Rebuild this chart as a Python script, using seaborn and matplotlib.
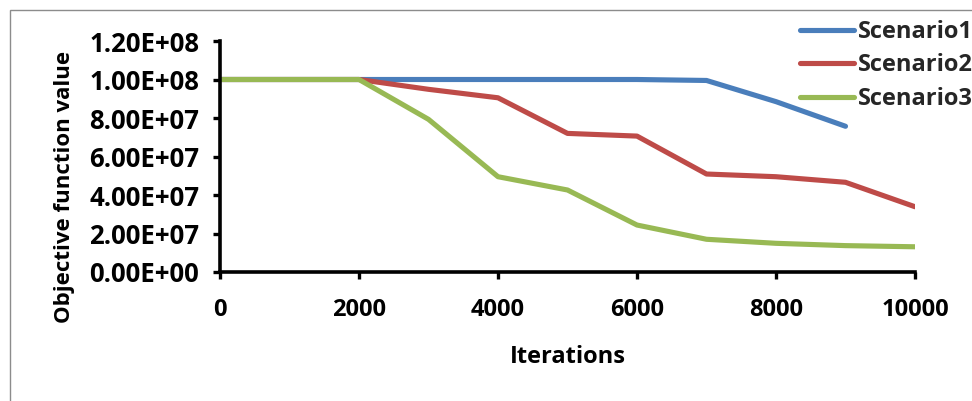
import matplotlib
matplotlib.use("Agg")
import matplotlib.pyplot as plt
from matplotlib.ticker import FuncFormatter, MultipleLocator
from matplotlib.patches import Rectangle
import seaborn as sns
import pandas as pd

iterations = [0, 1000, 2000, 3000, 4000, 5000, 6000, 7000, 8000, 9000, 10000]
scenario1 = [1.0e8, 1.0e8, 1.0e8, 1.0e8, 1.0e8, 1.0e8, 1.0e8, 0.995e8, 0.885e8, 0.757e8, None]
scenario2 = [1.0e8, 1.0e8, 1.0e8, 0.949e8, 0.905e8, 0.720e8, 0.706e8, 0.509e8, 0.495e8, 0.466e8, 0.339e8]
scenario3 = [1.0e8, 1.0e8, 1.0e8, 0.793e8, 0.495e8, 0.426e8, 0.244e8, 0.170e8, 0.149e8, 0.137e8, 0.131e8]
series_names = ["Scenario1", "Scenario2", "Scenario3"]
colors = ["#4A7EBB", "#BE4B48", "#98B954"]

rows = []
for name, vals in zip(series_names, [scenario1, scenario2, scenario3]):
    for it, v in zip(iterations, vals):
        if v is not None:
            rows.append({"Iterations": it, "value": v, "series": name})
df = pd.DataFrame(rows)

sns.set_theme(style="white")
plt.rcParams["font.family"] = ["Open Sans", "DejaVu Sans"]
plt.rcParams["font.weight"] = "bold"
FS = 17

fig = plt.figure(figsize=(9.72, 4.01), dpi=100)
ax = fig.add_axes([220/972, 1-272/401, (915-220)/972, (272-41)/401])

sns.lineplot(data=df, x="Iterations", y="value", hue="series", palette=colors,
             linewidth=3.7, ax=ax, legend=False, solid_capstyle="round")

ax.set_xlim(0, 10000)
ax.set_ylim(0, 1.2e8)
ax.xaxis.set_major_locator(MultipleLocator(2000))
ax.yaxis.set_major_locator(MultipleLocator(2e7))
ax.yaxis.set_major_formatter(FuncFormatter(lambda v, p: f"{v:.2E}"))

for s in ["top", "right"]:
    ax.spines[s].set_visible(False)
for s in ["left", "bottom"]:
    ax.spines[s].set_linewidth(2.6)
    ax.spines[s].set_color("black")

ax.tick_params(axis="y", direction="out", length=5, width=2.4, pad=10, labelsize=18.5, left=True, colors="black")
ax.tick_params(axis="x", direction="out", length=5, width=2.4, pad=14, labelsize=FS, bottom=True, colors="black")
for lbl in ax.get_xticklabels() + ax.get_yticklabels():
    lbl.set_fontweight("bold")

ax.set_xlabel("Iterations", fontsize=FS, fontweight="bold", color="black")
ax.set_ylabel("Objective function value", fontsize=16, fontweight="bold", color="black")
ax.xaxis.set_label_coords(0.5, -0.315)
ax.yaxis.set_label_coords(-0.208, 0.37)

handles = [plt.Line2D([0], [0], color=c, lw=3.7, solid_capstyle="round") for c in colors]
fig.legend(handles, series_names, loc="upper left", bbox_to_anchor=(800/972, 1-20/401),
           frameon=False, prop={"weight": "bold", "size": FS},
           handlelength=2.3, handletextpad=0.17, labelspacing=0.4, borderaxespad=0, borderpad=0)

fig.patches.append(Rectangle((9.5/972, -0.1), 2, 1.1 - 9.5/401, transform=fig.transFigure,
                             fill=False, edgecolor="#8c8c8c", linewidth=1))

fig.savefig("out.png", dpi=100)
